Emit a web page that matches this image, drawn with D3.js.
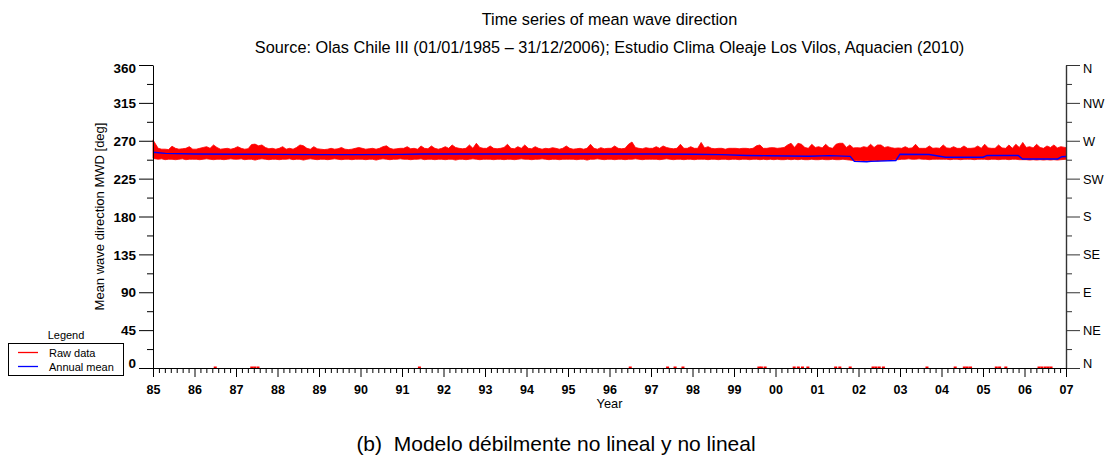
<!DOCTYPE html>
<html>
<head>
<meta charset="utf-8">
<script src="https://cdn.jsdelivr.net/npm/d3@7"></script>
<style>
  body { margin: 0; background: #fff; }
  svg { display: block; font-family: "Liberation Sans", Arial, Helvetica, sans-serif; }
</style>
</head>
<body>
<svg id="chart" width="1113" height="460"></svg>
<script>
// ---- data -------------------------------------------------------------
const startYear = 1985;
const endYear = 2007;
const yearLabels = ["85","86","87","88","89","90","91","92","93","94","95","96",
                    "97","98","99","00","01","02","03","04","05","06","07"];
const dirTicks = [0, 45, 90, 135, 180, 225, 270, 315, 360];
const compassLabels = ["N","NE","E","SE","S","SW","W","NW","N"];

// Raw MWD series summarised per month: highest value [deg], one row per year 1985..2006
const rawMonthlyMax = [
  [271, 261, 260, 260, 259.5, 263.5, 261, 260, 260.5, 261, 263, 260],
  [260, 261, 262, 263, 261, 265, 262, 260, 260.5, 261, 260, 261],
  [263, 261, 260, 260.5, 265.5, 266, 264, 265, 262, 260.5, 261, 260],
  [261, 263, 260, 261, 260, 262, 265, 264, 261, 260, 263, 260.5],
  [260, 259.5, 260, 261, 260, 260.5, 262, 260, 259.5, 260, 261, 262],
  [261, 260, 260.5, 261, 260, 261, 263, 264, 261, 260, 260.5, 261],
  [261, 263, 260.5, 261, 260, 263.8, 261, 260.5, 263.8, 261, 260, 261],
  [263, 261, 265, 262, 261, 260.5, 261, 265, 261, 267, 262, 261],
  [261, 263.8, 261, 260.5, 261, 262, 265.8, 261, 260.5, 263, 261, 265],
  [261, 260.5, 263, 261, 260, 261, 260.5, 261.8, 261, 260, 261, 263.8],
  [261, 260, 260.5, 261, 260, 261, 265.8, 261, 260, 261.8, 260.5, 261],
  [261, 263.8, 261, 260.5, 261, 265.8, 268.5, 262, 261, 260.5, 261.8, 261],
  [261, 263, 261, 263.8, 262, 261, 260.5, 261, 265.8, 261, 261, 263],
  [261, 261, 268, 261.5, 263, 261, 260.5, 261, 261, 260, 261, 261],
  [261, 260.5, 261, 261, 260.5, 261, 264, 265, 261, 261, 261.8, 261.8],
  [261, 261.5, 262, 265, 267, 262, 267, 265.8, 262, 261, 265.8, 262],
  [263, 261.5, 265.8, 262, 261, 265.8, 267, 267, 262, 265, 261.5, 261.8],
  [261.5, 263, 262, 265.8, 262, 265, 265, 262, 263, 261.8, 261, 261.5],
  [261, 263, 261, 261.5, 265.8, 261, 261, 261, 263.8, 261, 261.5, 261],
  [265, 261.5, 261, 263, 261, 261, 263.8, 261, 261, 261.5, 263.8, 261],
  [265.8, 261.5, 261, 261, 265, 261.5, 261, 265, 261, 265.8, 262, 268],
  [262, 263, 261.5, 265.8, 262, 261, 263.8, 262, 265, 261.5, 263, 261.8]
];

// Raw MWD series summarised per month: lowest value [deg], one row per year 1985..2006
const rawMonthlyMin = [
  [249, 248, 248.5, 247.5, 248, 248, 247.5, 248, 248.5, 247.5, 248, 248],
  [248, 247.5, 248, 248.5, 248, 247.5, 248, 248, 247.5, 248, 248.5, 248],
  [248, 248.5, 247.5, 248, 248, 247, 248, 248.5, 248, 247.5, 248, 248],
  [247.5, 248, 248, 248.5, 247.5, 248, 248, 247, 248, 248.5, 248, 247.5],
  [248, 248, 247.5, 248, 248.5, 248, 247.5, 248, 248, 247.5, 248, 248],
  [248, 247.5, 248, 248, 247, 248, 248.5, 248, 247.5, 248, 248, 248.5],
  [248, 248, 247.5, 248, 248, 248.5, 247.5, 248, 248, 247.5, 248, 248],
  [247.5, 248, 248, 247, 248, 248, 247.5, 248, 248.5, 248, 247.5, 248],
  [248, 248, 247.5, 248, 248, 247.5, 248, 248, 247.5, 248, 248.5, 248],
  [248, 247.5, 248, 248, 248.5, 248, 247.5, 248, 248, 247.5, 248, 248],
  [248, 248, 247.5, 248, 248, 247, 248, 248, 248.5, 248, 247.5, 248],
  [248, 247.5, 248, 248, 247.5, 248, 248, 248.5, 248, 247.5, 248, 248],
  [248, 248, 247.5, 248, 248.5, 248, 247.5, 248, 248, 247.5, 248, 248],
  [247.5, 248, 248, 248, 247.5, 248, 248, 247.5, 248, 248, 247.5, 248],
  [248, 247.5, 248, 248, 247.5, 248, 248, 247.5, 248, 247.5, 248, 247.5],
  [248, 247.5, 247.5, 248, 247.5, 248, 247.5, 248, 247.5, 247.5, 248, 247.5],
  [247.5, 248, 247.5, 247.5, 248, 247.5, 247.5, 248, 247.5, 247, 246.5, 246.5],
  [246.5, 246, 246.5, 246, 246.5, 246, 246.5, 246.5, 247, 247, 247.5, 247.5],
  [248, 248, 248.5, 248, 248, 248.5, 248, 248, 247.5, 248, 248, 248],
  [248, 248, 247.5, 248, 248, 247.5, 248, 248, 248, 247.5, 248, 248],
  [248, 247.5, 248, 248, 247.5, 248, 248, 247.5, 248, 248, 247.5, 247.5],
  [247.5, 247, 247.5, 247, 247.5, 247, 247.5, 247, 247.5, 247, 247.5, 248]
];

// Times (decimal year) of raw records with a zero direction
const zeroReadings = [1986.5, 1987.38, 1987.45, 1987.53, 1991.42, 1996.5, 1997.4, 1997.58,
  1997.77, 1999.6, 1999.66, 1999.75, 2000.45, 2000.55, 2000.65, 2000.78, 2001.45, 2001.55,
  2001.8, 2002.35, 2002.42, 2002.5, 2002.6, 2003.65, 2004.33, 2004.55, 2004.62, 2004.7,
  2005.32, 2005.4, 2005.55, 2006.35, 2006.42, 2006.5, 2006.57, 2006.64];

// Annual (moving) mean of MWD
const meanYears  = [1985.0, 1985.3, 1986.0, 1987.0, 1988.0, 1989.0, 1990.0, 1991.0, 1991.5,
  1992.0, 1993.0, 1994.0, 1995.0, 1996.0, 1997.0, 1998.0, 1998.7, 1999.3, 1999.8, 2000.8,
  2001.3, 2001.8, 2001.9, 2002.2, 2002.3, 2002.9, 2003.0, 2003.7, 2004.1, 2005.0, 2005.1,
  2005.85, 2005.95, 2006.8, 2006.9, 2007.0];
const meanValues = [256.3, 255.0, 254.3, 254.0, 253.8, 253.5, 253.5, 253.8, 254.2,
  254.3, 254.3, 254.2, 254.2, 254.3, 254.3, 254.0, 253.5, 252.5, 252.2, 251.5,
  252.3, 251.5, 245.5, 245.0, 245.5, 246.5, 254.0, 253.6, 250.4, 250.4, 252.5,
  252.5, 248.4, 248.4, 251.0, 251.3];

// ---- layout -----------------------------------------------------------
const svg = d3.select("#chart");
const plot = { left: 153, right: 1066, top: 65, bottom: 368 };

const x = d3.scaleLinear().domain([startYear, endYear]).range([plot.left, plot.right]);
const y = d3.scaleLinear().domain([0, 360]).range([plot.bottom, plot.top]);

// ---- raw data band (monthly extremes, plotted at mid-month) -----------
const monthly = [];
rawMonthlyMax.forEach((row, yi) => {
  row.forEach((hi, mi) => {
    monthly.push({ t: startYear + yi + (mi + 0.5) / 12, hi: hi, lo: rawMonthlyMin[yi][mi] });
  });
});
// the band starts and ends at the record limits
monthly[0].t = startYear;
monthly[monthly.length - 1].t = endYear;

svg.append("path")
  .datum(monthly)
  .attr("fill", "#ff0000")
  .attr("stroke", "#ff0000")
  .attr("stroke-width", 0.8)
  .attr("stroke-linejoin", "miter")
  .attr("d", d3.area().curve(d3.curveLinear)
    .x(d => x(d.t)).y0(d => y(d.lo)).y1(d => y(d.hi)));

svg.append("g").selectAll("rect")
  .data(zeroReadings)
  .join("rect")
  .attr("x", d => x(d) - 1.5)
  .attr("y", y(0) - 1.5)
  .attr("width", 3)
  .attr("height", 2)
  .attr("fill", "#ff0000");

// ---- annual mean ------------------------------------------------------
svg.append("path")
  .datum(meanYears.map((t, i) => [t, meanValues[i]]))
  .attr("fill", "none")
  .attr("stroke", "#0000ff")
  .attr("stroke-width", 1.4)
  .attr("d", d3.line().x(d => x(d[0])).y(d => y(d[1])));

// ---- axes -------------------------------------------------------------
const minorDir = dirTicks.slice(0, -1).map(v => v + 22.5);

function styleAxis(g, color) {
  g.select(".domain").attr("stroke", color);
  g.selectAll(".tick line").attr("stroke", color);
}

// left: degrees
const leftMinor = svg.append("g").attr("transform", `translate(${plot.left},0)`)
  .call(d3.axisLeft(y).tickValues(minorDir).tickSize(6).tickSizeOuter(0).tickFormat(""));
leftMinor.select(".domain").remove();
leftMinor.selectAll(".tick line").attr("stroke", "#000");

const leftAxis = svg.append("g").attr("transform", `translate(${plot.left},0)`)
  .call(d3.axisLeft(y).tickValues(dirTicks).tickSize(14).tickSizeOuter(0).tickPadding(3));
styleAxis(leftAxis, "#000");
leftAxis.selectAll("text")
  .attr("font-size", 13.5).attr("font-weight", "bold").attr("fill", "#000")
  .attr("font-family", '"Liberation Sans", Arial, sans-serif')
  .attr("dy", d => d === 0 ? "-0.05em" : d === 360 ? "0.55em" : "0.35em");

// right: compass points
const rightMinor = svg.append("g").attr("transform", `translate(${plot.right},0)`)
  .call(d3.axisRight(y).tickValues(minorDir).tickSize(6).tickSizeOuter(0).tickFormat(""));
rightMinor.select(".domain").remove();
rightMinor.selectAll(".tick line").attr("stroke", "#333");

const rightAxis = svg.append("g").attr("transform", `translate(${plot.right},0)`)
  .call(d3.axisRight(y).tickValues(dirTicks).tickSize(14).tickSizeOuter(0).tickPadding(3)
    .tickFormat((d, i) => compassLabels[i]));
styleAxis(rightAxis, "#333");
rightAxis.select(".domain").attr("stroke-width", 1.4);
rightAxis.selectAll("text")
  .attr("font-size", 12.8).attr("fill", "#000")
  .attr("font-family", '"Liberation Sans", Arial, sans-serif')
  .attr("dy", d => d === 0 ? "-0.05em" : d === 360 ? "0.55em" : "0.35em");

// bottom: years with 7 subdivisions each
const yearTicks = d3.range(startYear, endYear + 1);
const minorYears = [];
yearTicks.slice(0, -1).forEach(yr => { for (let k = 1; k < 7; k++) minorYears.push(yr + k / 7); });

const bottomMinor = svg.append("g").attr("transform", `translate(0,${plot.bottom})`)
  .call(d3.axisBottom(x).tickValues(minorYears).tickSize(5).tickSizeOuter(0).tickFormat(""));
bottomMinor.select(".domain").remove();
bottomMinor.selectAll(".tick line").attr("stroke", "#000");

const bottomAxis = svg.append("g").attr("transform", `translate(0,${plot.bottom})`)
  .call(d3.axisBottom(x).tickValues(yearTicks).tickSize(9).tickSizeOuter(0).tickPadding(8)
    .tickFormat((d, i) => yearLabels[i]));
styleAxis(bottomAxis, "#000");
bottomAxis.selectAll("text")
  .attr("font-size", 12.5).attr("font-weight", "bold").attr("fill", "#000")
  .attr("font-family", '"Liberation Sans", Arial, sans-serif');

// ---- titles and labels ------------------------------------------------
const cx = (plot.left + plot.right) / 2;
svg.append("text").attr("x", cx).attr("y", 25).attr("text-anchor", "middle")
  .attr("font-size", 16.3).text("Time series of mean wave direction");
svg.append("text").attr("x", cx).attr("y", 53).attr("text-anchor", "middle")
  .attr("font-size", 16.3)
  .text("Source: Olas Chile III (01/01/1985 – 31/12/2006); Estudio Clima Oleaje Los Vilos, Aquacien (2010)");

svg.append("text").attr("transform", `translate(104,${(plot.top + plot.bottom) / 2}) rotate(-90)`)
  .attr("text-anchor", "middle").attr("font-size", 13)
  .text("Mean wave direction MWD [deg]");

svg.append("text").attr("x", cx).attr("y", 408).attr("text-anchor", "middle")
  .attr("font-size", 12.8).text("Year");

svg.append("text").attr("x", 556).attr("y", 451).attr("text-anchor", "middle")
  .attr("font-size", 21).attr("xml:space", "preserve")
  .text("(b)  Modelo débilmente no lineal y no lineal");

// ---- legend -----------------------------------------------------------
const legend = svg.append("g").attr("font-size", 11);
legend.append("text").attr("x", 66).attr("y", 339).attr("text-anchor", "middle").text("Legend");
legend.append("rect").attr("x", 8.5).attr("y", 343.5).attr("width", 115).attr("height", 32)
  .attr("fill", "#fff").attr("stroke", "#000");
const legendItems = [
  { label: "Raw data", color: "#ff0000" },
  { label: "Annual mean", color: "#0000ff" }
];
legendItems.forEach((it, i) => {
  const ly = 352.5 + i * 14;
  legend.append("line").attr("x1", 18).attr("x2", 38).attr("y1", ly).attr("y2", ly)
    .attr("stroke", it.color).attr("stroke-width", 1.3);
  legend.append("text").attr("x", 49).attr("y", ly + 4).text(it.label);
});
</script>
</body>
</html>
